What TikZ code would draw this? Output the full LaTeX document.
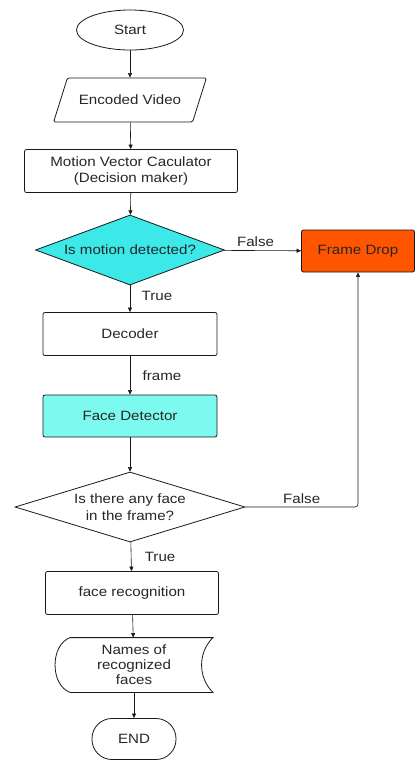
\documentclass[tikz,border=0pt]{standalone}
\usepackage{fontspec}
\setmainfont{Liberation Sans}[FakeStretch=1.12]
\usetikzlibrary{arrows.meta}
\usetikzlibrary{shapes.geometric}

\definecolor{motioncyan}{RGB}{60,232,232}
\definecolor{facecyan}{RGB}{125,250,240}
\definecolor{droporange}{RGB}{255,85,0}

\begin{document}
\begin{tikzpicture}[x=1pt, y=-1pt,
  font=\fontsize{13.5}{16.5}\selectfont, text=black!85, line width=0.8pt,
  stepbox/.style={draw=black!90, rectangle, rounded corners=2pt, align=center,
    minimum width=174pt, minimum height=43pt},
  decision/.style={draw=black!90, diamond, inner sep=0pt, align=center, minimum height=70pt},
  flow/.style={draw=black!90, line width=0.6pt, arrows={-Triangle[length=4.5pt, width=4pt]}}]
%        ( Start )
%            |
%      / Encoded Video /
%            |
%     [ Motion Vector ]
%            |
%     < motion? > -- False --> [Frame Drop]
%            | True                 ^
%       [ Decoder ]                 |
%            | frame                |
%     [ Face Detector ]             |
%            |                      |
%     < any face? > ---- False -----/
%            | True
%    [ face recognition ] -> (Names) -> ( END )
\useasboundingbox (0,0) rectangle (416,761);

\node[ellipse, draw=black!90, minimum width=107pt, minimum height=40pt] (start) at (130,30) {Start};
\node[trapezium, trapezium stretches=true, trapezium left angle=54, trapezium right angle=126,
  draw=black!90, rounded corners=1.5pt, minimum width=153pt, minimum height=44pt] (video) at (130,100) {Encoded Video};
\node[stepbox, minimum width=213pt] (mvc) at (131,171) {Motion Vector Caculator\\(Decision maker)};
\node[decision, fill=motioncyan, shape aspect=2.7, minimum width=189pt] (motion) at (130,250) {Is motion detected?};
\node[stepbox, fill=droporange, minimum width=113pt, minimum height=42pt] (drop) at (358,251) {Frame Drop};
\node[stepbox] (decoder) at (130,334) {Decoder};
\node[stepbox, fill=facecyan, minimum height=42pt] (facedet) at (130,416) {Face Detector};
\node[decision, shape aspect=3.3, minimum width=230pt] (anyface) at (130,507) {Is there any face\\in the frame?};
\node[stepbox, minimum width=173pt] (recog) at (132,593) {face recognition};
\node[align=center, minimum width=157pt, minimum height=54pt, font=\fontsize{13.5}{15}\selectfont] (names) at (134,665) {Names of\\recognized\\faces};
\draw[black!90] ([xshift=15pt]names.north west) -- (names.north east)
  to[bend right=45] (names.south east) -- ([xshift=15pt]names.south west)
  to[bend left=70] ([xshift=15pt]names.north west) -- cycle;
\node[draw=black!90, rounded corners=20pt, minimum width=84pt, minimum height=41pt] (stop) at (134,739) {END};

\draw[flow] (start) -- (video);
\draw[flow] (video) -- (mvc);
\draw[flow] (mvc) -- (motion);
\draw[flow] (motion) -- node[above, pos=0.41] {False} (drop);
\draw[flow] (motion) -- node[right=8pt, pos=0.4] {True} (decoder);
\draw[flow] (decoder) -- node[right=9pt] {frame} (facedet);
\draw[flow] (facedet) -- (anyface);
\draw[flow, rounded corners=3pt] (anyface.east) -| node[above, pos=0.25] {False} (drop.south);
\draw[flow] (anyface) -- node[right=10pt] {True} (recog);
\draw[flow] (recog) -- (names);
\draw[flow] (names) -- (stop);
\end{tikzpicture}
\end{document}
